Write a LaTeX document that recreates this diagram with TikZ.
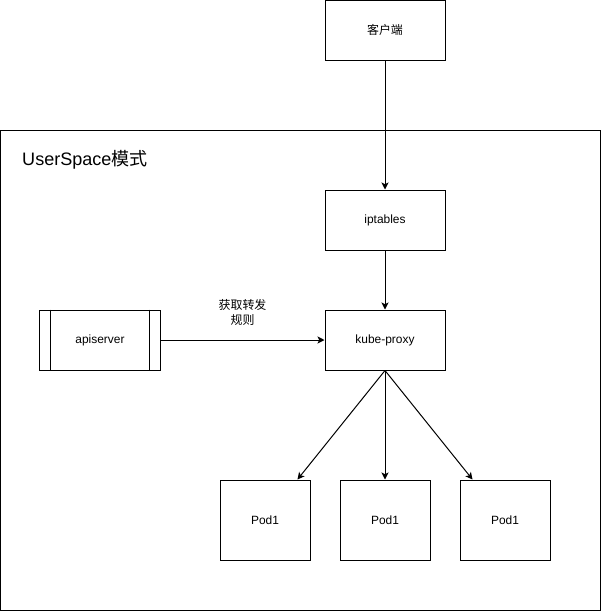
\documentclass[tikz,border=0pt]{standalone}
\usepackage{fontspec}
\setmainfont{Liberation Sans}
\newfontfamily\cjk{Noto Sans CJK SC}
\usetikzlibrary{arrows,arrows.meta,positioning,calc}

\tikzset{
  box/.style={draw, line width=0.85pt, inner sep=0pt,
    minimum width=3.6cm, minimum height=1.8cm,
    font=\fontsize{10.2}{12.8}\selectfont},
  podbox/.style={box, minimum width=2.7cm, minimum height=2.4cm},
  link/.style={line width=0.85pt, -{Stealth[length=6pt,width=6pt,inset=1.5pt]}}
}

\begin{document}
\begin{tikzpicture}[x=0.03cm,y=-0.03cm]
\useasboundingbox (0,0) rectangle (601,611);
% outer frame
\draw[line width=0.85pt] (0.5,130) rectangle (600,610);
\node[anchor=west, inner sep=0pt, font=\fontsize{15.4}{18}\selectfont] (title) at (22,160) {UserSpace{\cjk 模式}};

\node[box] (client) at (385,30) {\cjk 客户端};
\node[box] (iptables) at (385,220) {iptables};
\node[box] (proxy) at (385,340) {kube-proxy};
\node[box] (api) at (100,340) {apiserver};
\draw[line width=0.85pt] ($(api.north west)+(11,0)$) -- ($(api.south west)+(11,0)$);
\draw[line width=0.85pt] ($(api.north east)+(-11,0)$) -- ($(api.south east)+(-11,0)$);

\node[podbox] (pod1) at (265,520) {Pod1};
\node[podbox] (pod2) at (385,520) {Pod1};
\node[podbox] (pod3) at (505,520) {Pod1};

\draw[link] (client) -- (iptables);
\draw[link] (iptables) -- (proxy);
\draw[link] (api) -- node[above=12pt, inner sep=0pt, align=center,
  font=\fontsize{10.2}{12.8}\selectfont\cjk] (rule) {获取转发\\规则} (proxy);
\draw[link] (proxy.south) -- (pod1);
\draw[link] (proxy.south) -- (pod2);
\draw[link] (proxy.south) -- (pod3);
\end{tikzpicture}
\end{document}
